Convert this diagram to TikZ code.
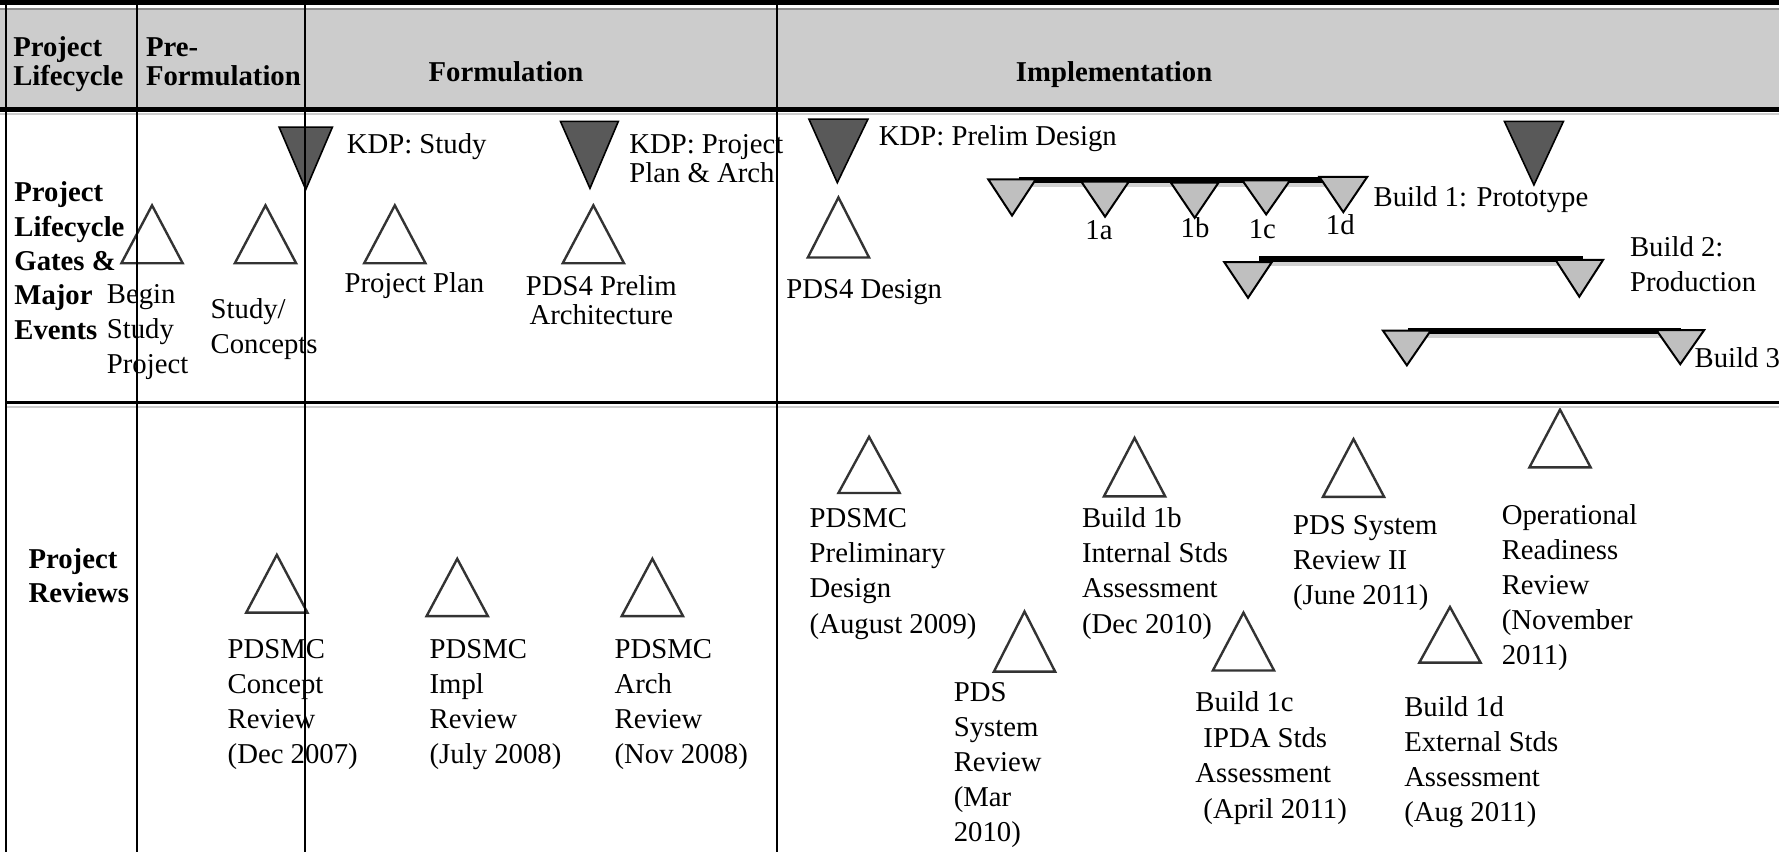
\documentclass[tikz,border=0pt]{standalone}
\usepackage{fontspec}
\setmainfont{Liberation Serif}
\tikzset{%
    hdr/.style={font=\fontsize{7.2}{7.1}\selectfont\bfseries,inner sep=0pt,align=left,anchor=base west}
}

\begin{document}
\begin{tikzpicture}[
        x=0.01cm,y=-0.01cm,
        lbl/.style={font=\fontsize{7.2}{#1}\selectfont,inner sep=0pt,align=left,anchor=base west},
        lbl/.default=8.8pt,
        rowlbl/.style={font=\fontsize{7.2}{8.6}\selectfont\bfseries,inner sep=0pt,align=left,anchor=base west},
        gate/.style={draw=black!80,line width=0.6pt,line join=miter},
        kdp/.style={draw=black,fill=black!65,line width=0.4pt},
        bld/.style={draw=black,fill=black!25,line width=0.5pt},
        buildbar/.style={line width=1.6pt},
        barshade/.style={black!18,line width=1.2pt},
        tabline/.style={line width=0.45pt}
        ]
        \useasboundingbox (0,0) rectangle (1568,751);

        % header band (multi-line nodes sit on their last baseline)
        \fill[black!20] (0,9) rectangle (1568,94.5);
        \draw[black!45,line width=0.6pt] (0,8) -- (1568,8);
        \fill[black] (0,0) rectangle (1568,4.5);
        \fill[black] (0,94.5) rectangle (1568,98.5);
        \draw[black!20,line width=0.6pt] (0,100.5) -- (1568,100.5);

        \node[hdr] (hlife) at (11,75) {Project\\Lifecycle};
        \node[hdr] (hpre) at (128,75) {Pre-\\Formulation};
        \node[hdr,anchor=base] (hform) at (446,72) {Formulation};
        \node[hdr,anchor=base] (himpl) at (982,72) {Implementation};

        % gates and major events
        \node[rowlbl] (rgates) at (12,299) {Project\\Lifecycle\\Gates \&\\Major\\Events};

        \draw[kdp] (246,112) -- (293,112) -- (269.5,167) -- cycle;
        \draw[kdp] (494,107) -- (545,107) -- (520,166) -- cycle;
        \draw[kdp] (713,105) -- (765,105) -- (738,161) -- cycle;
        \draw[kdp] (1326,107) -- (1378,107) -- (1352,163) -- cycle;

        \draw[gate] (134,181) -- (107,232) -- (161,232) -- cycle;
        \draw[gate] (234,181) -- (207,232) -- (261,232) -- cycle;
        \draw[gate] (348,181) -- (321,232) -- (375,232) -- cycle;
        \draw[gate] (523,181) -- (496,232) -- (550,232) -- cycle;
        \draw[gate] (739,174) -- (712,227) -- (766,227) -- cycle;

        \coordinate (b1s) at (898,158.5);
        \coordinate (b1e) at (1182,158.5);
        \coordinate (b2s) at (1110,228.5);
        \coordinate (b2e) at (1395,228.5);
        \coordinate (b3s) at (1241,292);
        \coordinate (b3e) at (1482,292);

        \draw[barshade] ([yshift=-0.04cm]b1s) -- ([yshift=-0.04cm]b1e);
        \draw[barshade] ([yshift=-0.04cm]b2s) -- ([yshift=-0.04cm]b2e);
        \draw[barshade] ([yshift=-0.04cm]b3s) -- ([yshift=-0.04cm]b3e);
        \draw[buildbar] (b1s) -- (b1e);
        \draw[buildbar] (b2s) -- (b2e);
        \draw[buildbar] (b3s) -- (b3e);

        \draw[bld] (871,158) -- (913,158) -- (892,190) -- cycle;
        \draw[bld] (953,160) -- (995,160) -- (974,191) -- cycle;
        \draw[bld] (1032,161) -- (1074,161) -- (1053,192) -- cycle;
        \draw[bld] (1095,159) -- (1137,159) -- (1116,189) -- cycle;
        \draw[bld] (1163,156) -- (1205,156) -- (1184,187) -- cycle;

        \draw[bld] (1079,231) -- (1121,231) -- (1100,262.5) -- cycle;
        \draw[bld] (1371,229) -- (1413,229) -- (1392,261.5) -- cycle;

        \draw[bld] (1219,291.5) -- (1261,291.5) -- (1240,322) -- cycle;
        \draw[bld] (1460,291) -- (1502,291) -- (1481,321) -- cycle;

        \node[lbl] (lbegin) at (93.5,329) {Begin\\Study\\Project};
        \node[lbl] (lstudy) at (185,312) {Study/\\Concepts};
        \node[lbl] (lplan) at (303,258) {Project Plan};
        \node[lbl] (lkdpstudy) at (305,135) {KDP: Study};
        \node[lbl=7.4pt] (lkdpplan) at (554,161) {KDP: Project\\Plan \& Arch};
        \node[lbl=7.3pt,align=center,anchor=base] (larch) at (530,286) {PDS4 Prelim\\Architecture};
        \node[lbl] (lkdpdes) at (774,128) {KDP: Prelim Design};
        \node[lbl] (ldes) at (692.5,263.5) {PDS4 Design};

        \node[lbl] (l1a) at (956,211) {1a};
        \node[lbl] (l1b) at (1040,209) {1b};
        \node[lbl] (l1c) at (1100,210) {1c};
        \node[lbl] (l1d) at (1168,207) {1d};
        \node[lbl] (lb1) at (1210,182) {Build 1: Prototype};
        \node[lbl] (lb2) at (1436,257) {Build 2:\\Production};
        \node[lbl] (lb3) at (1493,324) {Build 3};

        % project reviews
        \node[rowlbl] (rrev) at (24.5,531) {Project\\Reviews};

        \draw[gate] (244,489) -- (217,540) -- (271,540) -- cycle;
        \draw[gate] (403,492.5) -- (376,543) -- (430,543) -- cycle;
        \draw[gate] (575,492.5) -- (548,543) -- (602,543) -- cycle;
        \draw[gate] (766,385) -- (739,434.5) -- (793,434.5) -- cycle;
        \draw[gate] (903,539) -- (876,592) -- (930,592) -- cycle;
        \draw[gate] (1000,386) -- (973,437.5) -- (1027,437.5) -- cycle;
        \draw[gate] (1193,387) -- (1166,438) -- (1220,438) -- cycle;
        \draw[gate] (1096,540) -- (1069,591) -- (1123,591) -- cycle;
        \draw[gate] (1375,361) -- (1348,412) -- (1402,412) -- cycle;
        \draw[gate] (1278,535) -- (1251,584) -- (1305,584) -- cycle;

        \node[lbl] (lconcept) at (200,673) {PDSMC\\Concept\\Review\\(Dec 2007)};
        \node[lbl] (limpl) at (378,673) {PDSMC\\Impl\\Review\\(July 2008)};
        \node[lbl] (larchrev) at (541,673) {PDSMC\\Arch\\Review\\(Nov 2008)};
        \node[lbl] (lprelim) at (713,558) {PDSMC\\Preliminary\\Design\\(August 2009)};
        \node[lbl] (lsys) at (840,742) {PDS\\System\\Review\\(Mar\\2010)};
        \node[lbl] (lb1b) at (953,558) {Build 1b\\Internal Stds\\Assessment\\(Dec 2010)};
        \node[lbl] (lsys2) at (1139,533) {PDS System\\Review II\\(June 2011)};
        \node[lbl=8.9pt] (lb1c) at (1053,721) {Build 1c\\\hspace*{2pt}IPDA Stds\\Assessment\\\hspace*{2pt}(April 2011)};
        \node[lbl] (lorr) at (1323,586) {Operational\\Readiness\\Review\\(November\\2011)};
        \node[lbl] (lb1d) at (1237,724) {Build 1d\\External Stds\\Assessment\\(Aug 2011)};

        % table rules
        \draw[line width=0.65pt] (5.5,355) -- (1568,355);
        \draw[black!20,line width=0.6pt] (5.5,358.5) -- (1568,358.5);
        \draw[tabline] (5.5,0) -- (5.5,751);
        \draw[tabline] (121,4) -- (121,751);
        \draw[tabline] (269,4) -- (269,751);
        \draw[tabline] (685,4) -- (685,751);
    \end{tikzpicture}
\end{document}
